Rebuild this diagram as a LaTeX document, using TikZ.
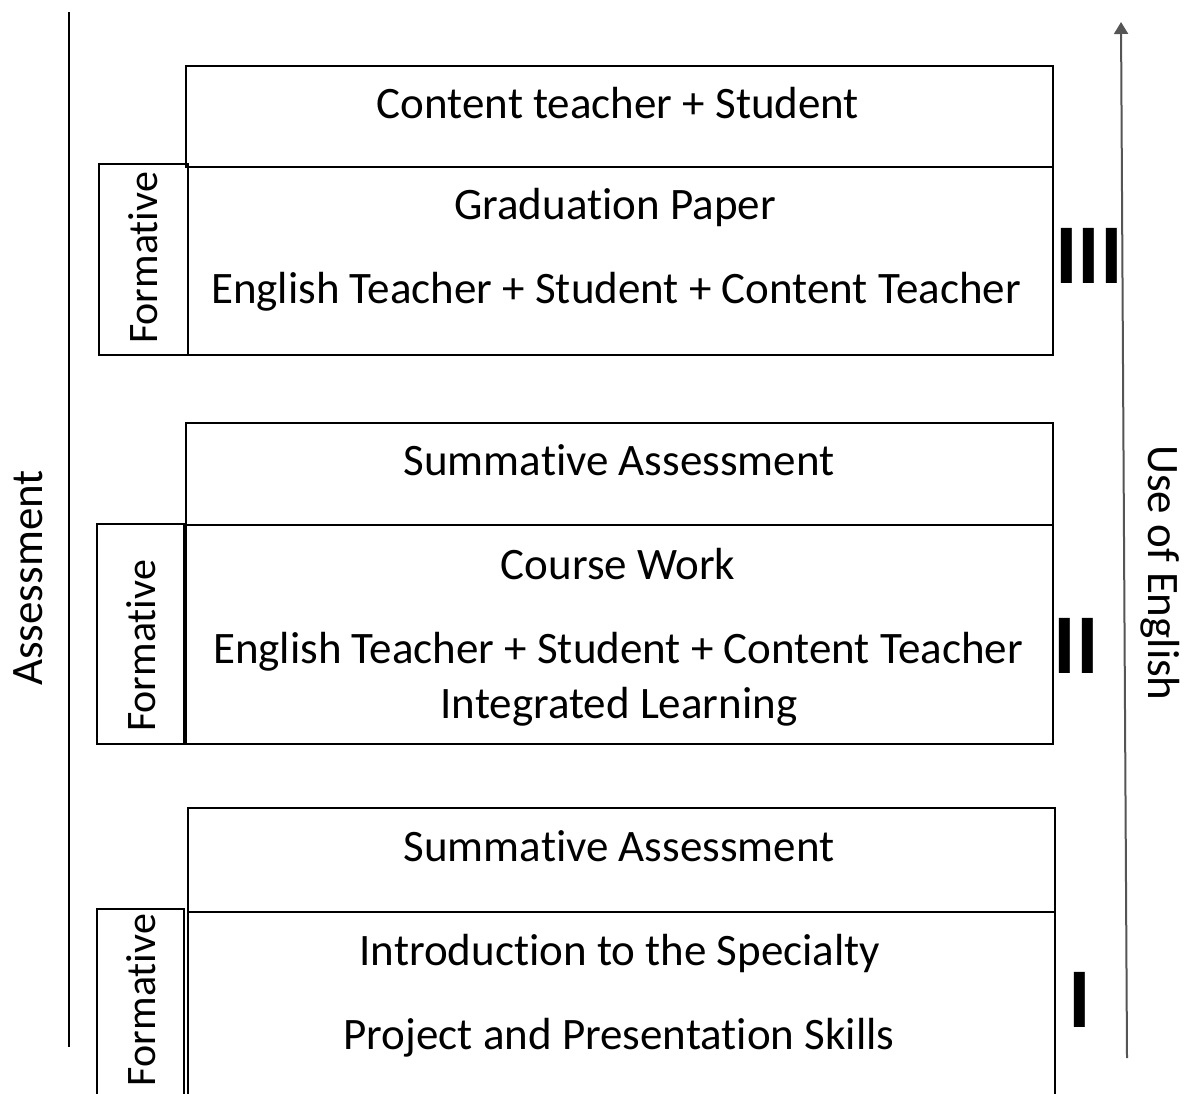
\documentclass[tikz,border=0pt]{standalone}
\usepackage{fontspec}
\setmainfont[RawFeature={-liga;-clig;-calt}]{Carlito}
\usepackage{xcolor}
\usetikzlibrary{positioning,arrows.meta}
\definecolor{axisgray}{RGB}{85,85,85}

\begin{document}
\begin{tikzpicture}[
        x=0.5pt, y=-0.5pt,
        font=\fontsize{22.5pt}{27pt}\selectfont,
        box/.style={rectangle, draw, line width=1pt, anchor=north west, inner sep=0pt},
        txt/.style={inner sep=0pt, anchor=base},
        side/.style={inner sep=0pt, rotate=90, font=\fontsize{21pt}{25pt}\selectfont},
        level/.style={inner sep=0pt, font=\fontsize{42.5pt}{50pt}\selectfont\bfseries},
    ]
        \useasboundingbox (0,0) rectangle (1187,1093);
        \clip (0,0) rectangle (1187,1093);

        % axes
        \coordinate (asmtop) at (69,12);
        \coordinate (asmbot) at (69,1047);
        \draw[line width=1pt] (asmtop) -- (asmbot);
        \node[inner sep=0pt, rotate=90] (asm) at (28,578) {Assessment};

        \coordinate (engbot) at (1127,1058);
        \coordinate (engtop) at (1121,22);
        \draw[axisgray, line width=1pt, -{Triangle[length=6pt,width=7pt]}] (engbot) -- (engtop);
        \node[inner sep=0pt, rotate=-90] (eng) at (1160,573) {Use of English};

        % stage III
        \node[box, minimum width=433.5pt, minimum height=50.5pt] (top3) at (185,65) {};
        \node[box, minimum width=432.5pt, minimum height=94pt] (main3) at (187,166) {};
        \node[box, minimum width=44.5pt, minimum height=95.5pt] (form3) at (98,163) {};
        \node[txt] (who3) at (618,118) {Content teacher + Student};
        \node[txt] (task3) at (615,219) {Graduation Paper};
        \node[txt] (team3) at (616,303) {English Teacher + Student + Content Teacher};
        \node[side] (fl3) at (143,258) {Formative};
        \node[level] (lv3) at (1089,256) {III};

        % stage II
        \node[box, minimum width=433.5pt, minimum height=51pt] (top2) at (185,422) {};
        \node[box, minimum width=433.5pt, minimum height=109.5pt] (main2) at (185,524) {};
        \node[box, minimum width=43.5pt, minimum height=110pt] (form2) at (96,523) {};
        \node[txt] (sum2) at (619,475) {Summative Assessment};
        \node[txt] (task2) at (618,579) {Course Work};
        \node[txt] (team2) at (618,663) {English Teacher + Student + Content Teacher};
        \node[txt] (int2) at (619,718) {Integrated Learning};
        \node[side] (fl2) at (141,646) {Formative};
        \node[level] (lv2) at (1076,646) {II};

        % stage I
        \node[box, minimum width=433.5pt, minimum height=52pt] (top1) at (187,807) {};
        \node[box, minimum width=433.5pt, minimum height=125pt] (main1) at (187,911) {};
        \node[box, minimum width=43.5pt, minimum height=125pt] (form1) at (96,908) {};
        \node[txt] (sum1) at (619,861) {Summative Assessment};
        \node[txt] (task1) at (620,965) {Introduction to the Specialty};
        \node[txt] (proj1) at (619,1049) {Project and Presentation Skills};
        \node[side] (fl1) at (141,1000) {Formative};
        \node[level] (lv1) at (1080,1000) {I};
    \end{tikzpicture}
\end{document}
